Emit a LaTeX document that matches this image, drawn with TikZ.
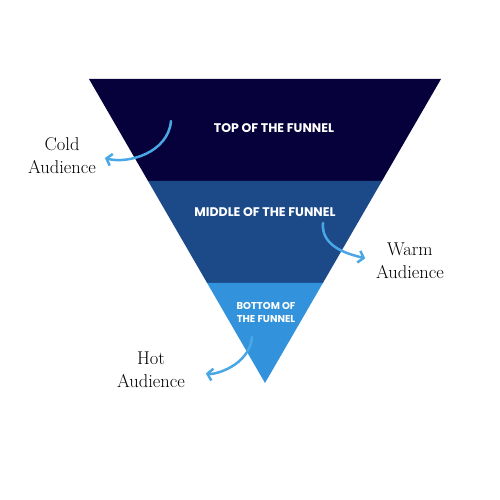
\documentclass[tikz,border=0pt]{standalone}
\usepackage{fontspec}
\newfontfamily\funnelfont{Poppins}
\usepackage{xcolor}
\usetikzlibrary{arrows.meta,positioning,calc}

\definecolor{topband}{HTML}{06013A}
\definecolor{midband}{HTML}{1C4A89}
\definecolor{botband}{HTML}{3292DB}
\definecolor{arrowblue}{HTML}{4AA7E6}

\begin{document}
\begin{tikzpicture}[
  x=1pt, y=1pt,
  stage/.style={text=white, align=center, font=\funnelfont\bfseries\fontsize{12.5}{13}\selectfont},
  smallstage/.style={stage, font=\funnelfont\bfseries\fontsize{10}{13}\selectfont},
  audience/.style={align=center, inner sep=1pt, font=\fontsize{18.5}{23}\selectfont},
  arrow/.style={-{Straight Barb[length=5pt, width=12pt]}, line width=2.5pt, arrowblue, line cap=round}
]
\useasboundingbox (0,0) rectangle (500,500);

\coordinate (tl) at (89,421);
\coordinate (tr) at (441,421);
\coordinate (apex) at (265,117);
\coordinate (ml) at ($(tl)!0.3355!(apex)$);
\coordinate (mr) at ($(tr)!0.3355!(apex)$);
\coordinate (bl) at ($(tl)!0.671!(apex)$);
\coordinate (br) at ($(tr)!0.671!(apex)$);

\fill[topband] (tl) -- (tr) -- (mr) -- (ml) -- cycle;
\fill[midband] (ml) -- (mr) -- (br) -- (bl) -- cycle;
\fill[botband] (bl) -- (br) -- (apex) -- cycle;

\node[stage] (top) at (274,372) {TOP OF THE FUNNEL};
\node[stage] (middle) at (265,288) {MIDDLE OF THE FUNNEL};
\node[smallstage] (bottom) at (266,188) {BOTTOM OF\\THE FUNNEL};

\node[audience] (cold) at (62,344) {Cold\\Audience};
\node[audience] (warm) at (410,239) {Warm\\Audience};
\node[audience] (hot) at (151,130) {Hot\\Audience};

\coordinate (coldstart) at (171,379);
\coordinate (warmstart) at (323,277);
\coordinate (hotstart) at (252,163);

\draw[arrow, shorten >=8pt] (coldstart) to[out=-95, in=-15] (cold.east);
\draw[arrow, shorten >=10pt] (warmstart) to[out=-95, in=165] (warm.west);
\draw[arrow, shorten >=20pt] (hotstart) to[out=-95, in=-10] (hot.east);

\end{tikzpicture}
\end{document}
